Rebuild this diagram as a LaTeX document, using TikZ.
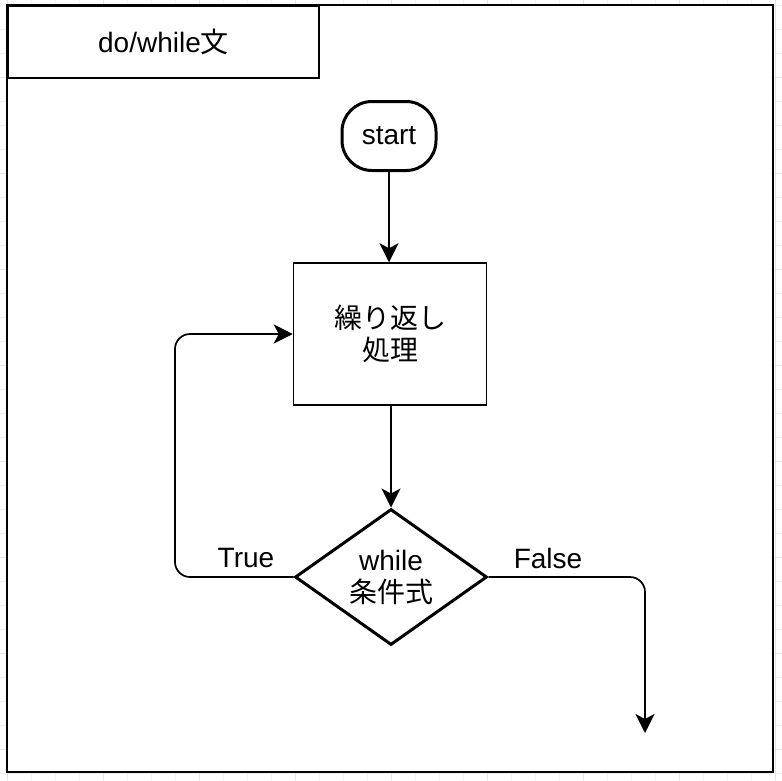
\documentclass[tikz,border=0pt]{standalone}
\usepackage{fontspec}
\setmainfont{Liberation Sans}
\newfontfamily\jp{Noto Sans CJK JP}
\usetikzlibrary{shapes.geometric,arrows.meta}
\definecolor{gridminor}{HTML}{F2F2F2}
\definecolor{gridmajor}{HTML}{E4E4E4}
\tikzset{
  txt/.style={font=\fontsize{28}{32}\selectfont},
  terminal/.style={draw, line width=3pt, rounded corners=30pt, minimum width=94pt, minimum height=69pt, inner sep=0pt, txt},
  procbox/.style={draw, line width=1.5pt, minimum width=193pt, minimum height=142pt, inner sep=0pt, align=center, txt},
  decision/.style={draw, line width=3pt, diamond, aspect=1.4, minimum width=192pt, minimum height=136pt, inner sep=0pt, align=center, txt},
  titlebox/.style={draw, line width=2pt, minimum width=311pt, minimum height=72pt, inner sep=0pt, txt},
  conn/.style={line width=1.7pt, -{Stealth[length=19pt,width=19pt,inset=5pt]}},
  lbl/.style={txt, inner sep=0pt}
}
\begin{document}
\begin{tikzpicture}[x=1pt,y=-1pt]
\useasboundingbox (0,0) rectangle (782,780);
% background grid
\foreach \k in {0,...,32} {
  \draw[gridminor, line width=1pt] ({7+24*\k},0) -- ({7+24*\k},780);
  \draw[gridminor, line width=1pt] (0,{5+24*\k}) -- (782,{5+24*\k});
}
\foreach \k in {0,...,8} {
  \draw[gridmajor, line width=1pt] ({7+96*\k},0) -- ({7+96*\k},780);
  \draw[gridmajor, line width=1pt] (0,{77+96*\k}) -- (782,{77+96*\k});
}
% frame
\draw[line width=2pt, fill=white] (7,5) rectangle (773,772);
\node[titlebox, anchor=north west] (title) at (7,5) {do/while{\jp 文}};
% nodes
\node[terminal] (start) at (389,136) {start};
\node[procbox] (proc) at (390,334) {{\jp 繰り返し}\\{\jp 処理}};
\node[decision] (cond) at (391,577) {while\\{\jp 条件式}};
\coordinate (endpt) at (645,733);
% connectors
\draw[conn] (start.south) -- (start.south |- proc.north);
\draw[conn] (cond.north |- proc.south) -- (cond.north);
\draw[conn, rounded corners=15pt] (cond.west) -- (175,577) -- (175,334) -- (proc.west);
\draw[conn, rounded corners=15pt] (cond.east) -- (645,577) -- (endpt);
% labels
\node[lbl] (tlbl) at (246,558) {True};
\node[lbl] (flbl) at (548,558) {False};
\end{tikzpicture}
\end{document}
